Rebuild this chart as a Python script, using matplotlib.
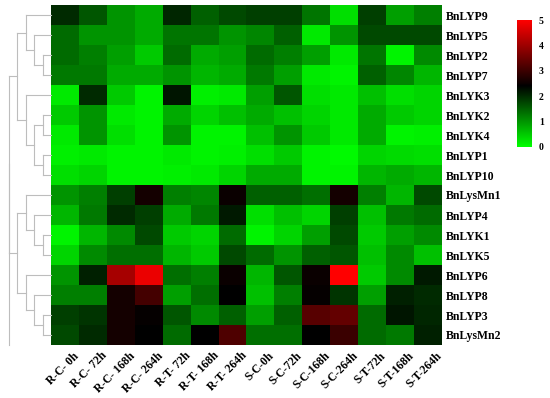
import matplotlib
matplotlib.use("Agg")
import matplotlib.pyplot as plt
import numpy as np
from matplotlib.colors import LinearSegmentedColormap

genes = ["BnLYP9", "BnLYP5", "BnLYP2", "BnLYP7", "BnLYK3", "BnLYK2", "BnLYK4",
         "BnLYP1", "BnLYP10", "BnLysMn1", "BnLYP4", "BnLYK1", "BnLYK5",
         "BnLYP6", "BnLYP8", "BnLYP3", "BnLysMn2"]
samples = ["R-C- 0h", "R-C- 72h", "R-C- 168h", "R-C- 264h", "R-T- 72h",
           "R-T- 168h", "R-T- 264h", "S-C-0h", "S-C-72h", "S-C-168h",
           "S-C-264h", "S-T-72h", "S-T-168h", "S-T-264h"]

values = [
    [2.0, 1.6, 1.0, 0.8, 2.05, 1.5, 1.7, 1.8, 1.8, 1.3, 0.3, 1.8, 0.9, 1.2],
    [1.4, 1.0, 1.0, 0.8, 1.3, 1.3, 1.0, 1.15, 1.5, 0.2, 1.0, 1.7, 1.7, 1.7],
    [1.4, 1.2, 0.9, 0.5, 1.4, 0.8, 0.9, 1.4, 1.2, 0.9, 0.2, 1.3, 0.1, 1.1],
    [1.25, 1.25, 0.8, 0.8, 1.0, 0.7, 0.8, 1.25, 0.9, 0.2, 0.1, 1.5, 1.15, 0.7],
    [0.2, 2.0, 0.5, 0.1, 2.2, 0.15, 0.2, 0.9, 1.6, 0.3, 0.2, 0.6, 0.3, 0.4],
    [0.5, 1.0, 0.2, 0.1, 0.8, 0.4, 0.6, 0.8, 0.6, 0.4, 0.2, 0.8, 0.5, 0.4],
    [0.2, 1.0, 0.3, 0.1, 1.0, 0.1, 0.1, 0.6, 1.0, 0.5, 0.2, 0.8, 0.1, 0.15],
    [0.15, 0.2, 0.1, 0.1, 0.2, 0.1, 0.15, 0.3, 0.5, 0.1, 0.05, 0.4, 0.35, 0.3],
    [0.3, 0.4, 0.1, 0.1, 0.15, 0.2, 0.4, 0.8, 0.8, 0.1, 0.1, 0.7, 0.8, 0.7],
    [1.0, 1.2, 1.8, 2.6, 1.2, 1.15, 2.5, 1.5, 1.5, 1.35, 2.6, 1.2, 0.7, 1.7],
    [0.7, 1.25, 2.0, 1.8, 0.8, 1.25, 2.15, 0.3, 0.6, 0.4, 1.8, 0.6, 1.25, 1.4],
    [0.1, 0.7, 1.1, 1.7, 0.5, 0.4, 1.4, 0.1, 0.4, 0.9, 1.7, 0.5, 0.9, 1.1],
    [0.4, 1.1, 1.35, 1.35, 0.7, 0.5, 1.7, 1.4, 1.0, 1.5, 1.6, 0.6, 1.1, 0.6],
    [1.0, 2.1, 4.1, 4.8, 1.35, 1.2, 2.5, 0.7, 1.6, 2.5, 5.0, 0.5, 1.1, 2.15],
    [1.2, 1.2, 2.6, 3.1, 0.9, 1.35, 2.4, 0.6, 1.2, 2.45, 1.9, 0.9, 2.1, 2.0],
    [1.8, 1.9, 2.6, 2.45, 1.6, 1.1, 1.5, 0.9, 1.5, 3.3, 3.4, 1.4, 2.2, 2.05],
    [1.7, 2.0, 2.6, 2.4, 1.4, 2.4, 3.2, 1.35, 1.35, 2.4, 3.0, 1.4, 1.25, 2.1],
]

# row dendrogram: (merge height, left, right), leaves are row indices
row_tree = (5,
            (4, (3, 0, (2, 1, (1, 2, 3))),
                (3, 4, (2, (1, 5, 6), (1, 7, 8)))),
            (4, (3, 9, (2, 10, (1, 11, 12))),
                (3, 13, (2, 14, (1, 15, 16)))))

cbar_ticks = [0, 1, 2, 3, 4, 5]

serif = ["Liberation Serif", "DejaVu Serif"]

data = np.array(values)
cmap = LinearSegmentedColormap.from_list(
    "gbr", [(0.0, "#00ff00"), (0.48, "#000000"), (1.0, "#ff0000")])

W, H = 550, 398
fig = plt.figure(figsize=(W / 100, H / 100), dpi=100)

def px_axes(x0, y0, x1, y1):
    return fig.add_axes([x0 / W, 1 - y1 / H, (x1 - x0) / W, (y1 - y0) / H])

ax = px_axes(51, 5, 441, 345)
im = ax.imshow(data, cmap=cmap, vmin=0, vmax=5, aspect="auto",
               interpolation="nearest")
ax.set_xticks(range(len(samples)))
ax.set_xticklabels(samples, rotation=45, ha="right", va="top",
                   rotation_mode="anchor", family=serif, weight="bold",
                   fontsize=8.5)
ax.set_yticks(range(len(genes)))
ax.yaxis.tick_right()
ax.set_yticklabels(genes, family=serif, weight="bold", fontsize=8.5)
ax.tick_params(length=0, pad=3.5)
for lbl in ax.get_xticklabels():
    lbl.set_transform(lbl.get_transform() +
                      matplotlib.transforms.ScaledTranslation(6 / 72, 0, fig.dpi_scale_trans))
for s in ax.spines.values():
    s.set_visible(False)

# dendrogram
dax = px_axes(9, 5, 51, 345)
dax.set_xlim(5, 0)
dax.set_ylim(len(genes) - 0.5, -0.5)
dax.axis("off")
lc = "#bdbdbd"

def draw(node):
    if isinstance(node, int):
        return float(node), 0.0
    h, left, right = node
    yl, hl = draw(left)
    yr, hr = draw(right)
    dax.plot([hl, h], [yl, yl], color=lc, lw=0.8, clip_on=False)
    dax.plot([hr, h], [yr, yr], color=lc, lw=0.8, clip_on=False)
    dax.plot([h, h], [yl, yr], color=lc, lw=0.8, clip_on=False)
    return (yl + yr) / 2, h

ry, rh = draw(row_tree)
dax.plot([rh, rh], [ry, len(genes) - 0.5], color=lc, lw=0.8, clip_on=False)

# colorbar
cax = px_axes(517, 20, 532, 147)
cb = fig.colorbar(im, cax=cax, ticks=cbar_ticks)
cb.outline.set_visible(False)
cax.tick_params(length=0, pad=5)
cax.set_yticklabels([str(t) for t in cbar_ticks], family=serif,
                    weight="bold", fontsize=7)

fig.savefig("out.png", dpi=100)
